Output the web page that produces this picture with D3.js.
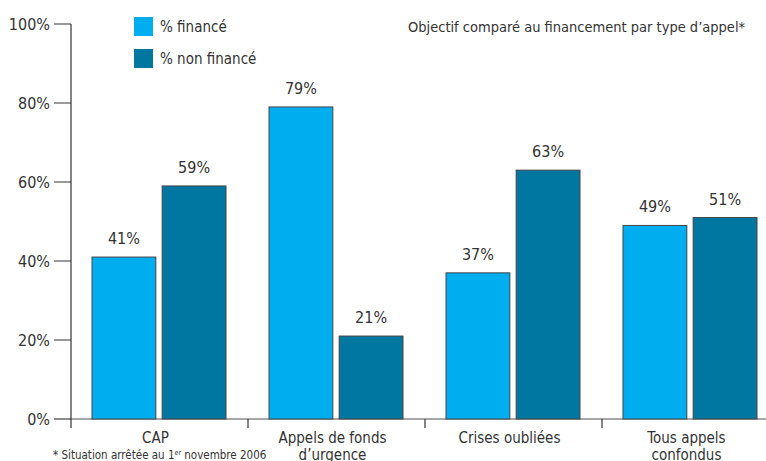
<!DOCTYPE html>
<html>
<head>
<meta charset="utf-8">
<script src="https://cdn.jsdelivr.net/npm/d3@7"></script>
<style>
  body { margin: 0; background: #fff; }
  svg text { font-family: "Liberation Sans Narrow", "DejaVu Sans Condensed", sans-serif; fill: #333; }
</style>
</head>
<body>
<div id="chart"></div>
<script>
var categories = [["CAP"], ["Appels de fonds", "d\u2019urgence"], ["Crises oubliées"], ["Tous appels", "confondus"]];
var finance = [41, 79, 37, 49];
var nonFinance = [59, 21, 63, 51];
var seriesNames = ["% financé", "% non financé"];
var yTicks = [0, 20, 40, 60, 80, 100];

var W = 766, H = 461;
var color = ["#00aeef", "#0077a0"];

var svg = d3.select("#chart").append("svg")
  .attr("width", W)
  .attr("height", H);

var x = d3.scaleBand()
  .domain(d3.range(categories.length))
  .range([71, 779]);

var inner = d3.scaleBand()
  .domain([0, 1])
  .range([21, 155])
  .paddingInner(0.09);

var y = d3.scaleLinear()
  .domain([0, 100])
  .range([419, 24]);

// y ticks
svg.selectAll(".ytick")
  .data(yTicks)
  .enter().append("line")
  .attr("x1", 54).attr("x2", 71)
  .attr("y1", function(d) { return y(d); })
  .attr("y2", function(d) { return y(d); })
  .attr("stroke", "#777").attr("stroke-width", 1.5);

svg.selectAll(".ylab")
  .data(yTicks)
  .enter().append("text")
  .attr("x", 50)
  .attr("y", function(d) { return y(d); })
  .attr("dy", "0.35em")
  .attr("text-anchor", "end")
  .style("font-size", "16px")
  .text(function(d) { return d + "%"; });

// baseline
svg.append("line")
  .attr("x1", 54).attr("x2", W)
  .attr("y1", y(0)).attr("y2", y(0))
  .attr("stroke", "#888").attr("stroke-width", 1.5);

// y axis line
svg.append("line")
  .attr("x1", 71).attr("x2", 71)
  .attr("y1", y(100)).attr("y2", 428)
  .attr("stroke", "#333").attr("stroke-width", 1.2);

// category separators
svg.selectAll(".xtick")
  .data(d3.range(1, categories.length))
  .enter().append("line")
  .attr("x1", function(d) { return x(d); })
  .attr("x2", function(d) { return x(d); })
  .attr("y1", y(0)).attr("y2", 428)
  .attr("stroke", "#333").attr("stroke-width", 1.2);

var data = [];
categories.forEach(function(c, i) {
  data.push({cat: i, s: 0, v: finance[i]});
  data.push({cat: i, s: 1, v: nonFinance[i]});
});

svg.selectAll(".bar")
  .data(data)
  .enter().append("rect")
  .attr("x", function(d) { return x(d.cat) + inner(d.s); })
  .attr("width", inner.bandwidth())
  .attr("y", function(d) { return y(d.v); })
  .attr("height", function(d) { return y(0) - y(d.v); })
  .attr("fill", function(d) { return color[d.s]; })
  .attr("stroke", "#444")
  .attr("stroke-width", 1);

svg.selectAll(".val")
  .data(data)
  .enter().append("text")
  .attr("x", function(d) { return x(d.cat) + inner(d.s) + inner.bandwidth() / 2; })
  .attr("y", function(d) { return y(d.v) - 13; })
  .attr("text-anchor", "middle")
  .style("font-size", "16px")
  .text(function(d) { return d.v + "%"; });

// category labels, one text per line
categories.forEach(function(lines, i) {
  svg.selectAll(".cat" + i)
    .data(lines)
    .enter().append("text")
    .attr("x", x(i) + x.bandwidth() / 2 - 4)
    .attr("y", function(d, j) { return 443 + j * 17; })
    .attr("text-anchor", "middle")
    .style("font-size", "15px")
    .text(function(d) { return d; });
});

// legend
var legend = svg.selectAll(".legend")
  .data(seriesNames)
  .enter().append("g")
  .attr("transform", function(d, i) { return "translate(134," + (17 + i * 32) + ")"; });

legend.append("rect")
  .attr("width", 19).attr("height", 19)
  .attr("fill", function(d, i) { return color[i]; });

legend.append("text")
  .attr("x", 26).attr("y", 10)
  .attr("dy", "0.35em")
  .style("font-size", "15px")
  .text(function(d) { return d; });

// title
svg.append("text")
  .attr("x", 408).attr("y", 32)
  .style("font-size", "14.5px")
  .text("Objectif comparé au financement par type d\u2019appel*");

// footnote
var fn = svg.append("text")
  .attr("x", 53).attr("y", 459)
  .style("font-size", "11.5px");
fn.append("tspan").text("* Situation arrêtée au 1");
fn.append("tspan").attr("dy", -4).style("font-size", "7px").text("er");
fn.append("tspan").attr("dy", 4).text(" novembre 2006");
</script>
</body>
</html>
